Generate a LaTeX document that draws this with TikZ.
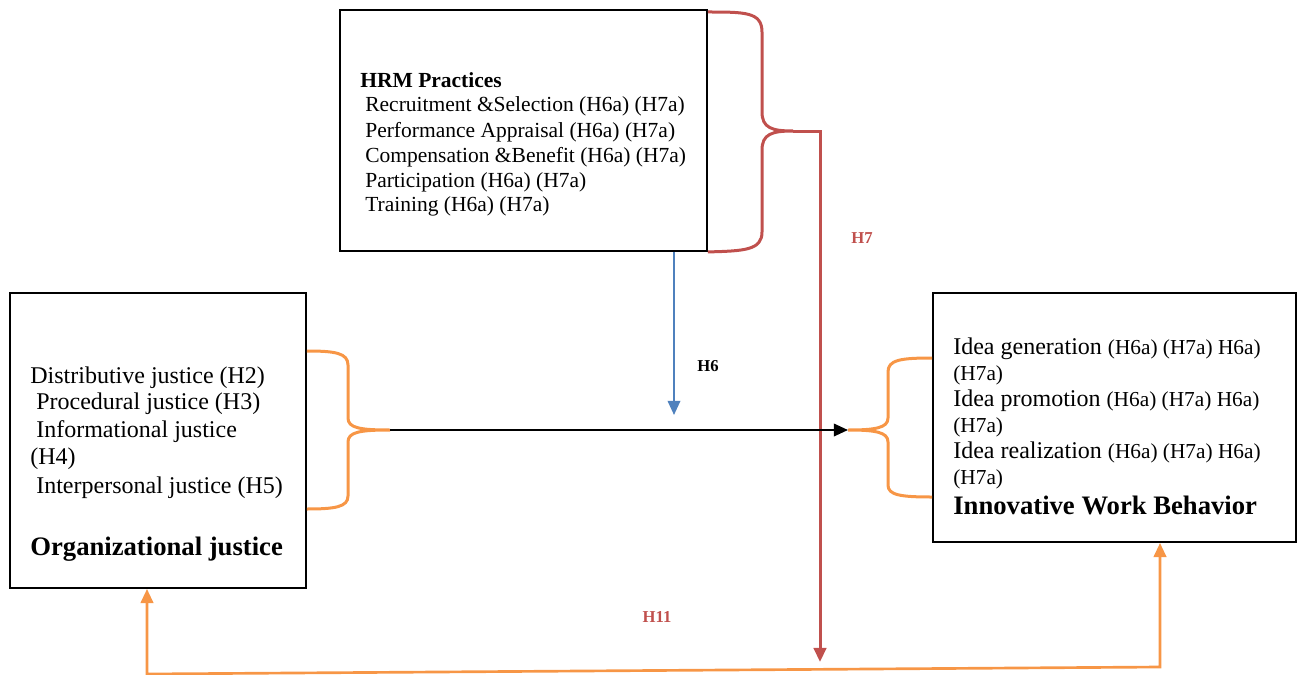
\documentclass[tikz,border=0pt]{standalone}
\usepackage{fontspec}
\setmainfont{Liberation Serif}
\usetikzlibrary{arrows.meta}
\definecolor{hred}{HTML}{C0504D}
\definecolor{horange}{HTML}{F79646}
\definecolor{hblue}{HTML}{4F81BD}
\newcommand{\hsmall}{\fontsize{12.8}{15}\selectfont}
\tikzset{
  box/.style={draw=black, line width=1.1pt, fill=white, inner sep=0pt},
  txt/.style={anchor=base west, inner sep=0pt, font=\fontsize{12.9}{15}\selectfont},
  bigtxt/.style={anchor=base west, inner sep=0pt, font=\fontsize{14.4}{17}\selectfont},
  smalltxt/.style={anchor=base west, inner sep=0pt, font=\hsmall},
  ttl/.style={anchor=base west, inner sep=0pt, font=\fontsize{16}{19}\selectfont\bfseries},
  hdr/.style={anchor=base west, inner sep=0pt, font=\fontsize{12.9}{15}\selectfont\bfseries},
  lbl/.style={inner sep=0pt, font=\fontsize{10}{12}\selectfont\bfseries},
  redl/.style={draw=hred, line width=1.8pt},
  orl/.style={draw=horange, line width=1.8pt},
  tip/.style={-{Triangle[length=8.5pt,width=7.5pt]}},
}
\begin{document}
\begin{tikzpicture}[x=0.6pt,y=-0.6pt]
\useasboundingbox (0,0) rectangle (1297,675);
% boxes
\node[box, minimum width=220.2pt, minimum height=144.6pt] (hrm) at (523.5,130.5) {};
\node[box, minimum width=177.6pt, minimum height=177pt] (oj) at (158,440.5) {};
\node[box, minimum width=217.8pt, minimum height=149.4pt] (iwb) at (1114.5,417.5) {};
% HRM text
\node[hdr] (h0) at (360,88) {HRM Practices};
\node[txt] (h1) at (365,112) {Recruitment \&Selection (H6a) (H7a)};
\node[txt] (h2) at (365,137) {Performance Appraisal (H6a) (H7a)};
\node[txt] (h3) at (365,162) {Compensation \&Benefit (H6a) (H7a)};
\node[txt] (h4) at (365,187) {Participation (H6a) (H7a)};
\node[txt] (h5) at (365,211) {Training (H6a) (H7a)};
% OJ text
\node[bigtxt] (o1) at (30,383) {Distributive justice (H2)};
\node[bigtxt] (o2) at (36,409) {Procedural justice (H3)};
\node[bigtxt] (o3) at (36,437) {Informational justice};
\node[bigtxt] (o4) at (30,464) {(H4)};
\node[bigtxt] (o5) at (36,493) {Interpersonal justice (H5)};
\node[ttl] (o6) at (30,555) {Organizational justice};
% IWB text
\node[bigtxt] (i1) at (953,354) {Idea generation {\hsmall (H6a) (H7a) H6a)}};
\node[smalltxt] (i2) at (953,380) {(H7a)};
\node[bigtxt] (i3) at (953,406) {Idea promotion {\hsmall (H6a) (H7a) H6a)}};
\node[smalltxt] (i4) at (953,432) {(H7a)};
\node[bigtxt] (i5) at (953,458) {Idea realization {\hsmall (H6a) (H7a) H6a)}};
\node[smalltxt] (i6) at (953,484) {(H7a)};
\node[ttl] (i7) at (953,514) {Innovative Work Behavior};
% labels
\node[lbl, text=hred] (l7) at (862,238) {H7};
\node[lbl, text=black] (l6) at (708,366) {H6};
\node[lbl, text=hred] (l11) at (657,617) {H11};
% coordinates
\coordinate (rtip) at (793,131);
\coordinate (r7end) at (820,662);
\coordinate (ltip) at (390,430);
\coordinate (rbtip) at (848,430);
\coordinate (b6) at (674,415);
\coordinate (bl) at (147,674);
\coordinate (br) at (1160,667);
% red brace
\draw[redl] (hrm.north east |- 0,12) .. controls (745,12) and (762,12) .. (762,32) -- (762,112)
  .. controls (762,128) and (772,131) .. (rtip)
  .. controls (772,131) and (762,134) .. (762,150) -- (762,232)
  .. controls (762,250) and (745,251) .. (hrm.south east);
\draw[redl, tip] (rtip) -| (r7end);
% blue arrow
\draw[draw=hblue, line width=1.3pt, tip] (hrm.south -| b6) -- (b6);
% left orange brace
\draw[orl] (oj.east |- 0,351) .. controls (335,351) and (348,353) .. (348,365) -- (348,418)
  .. controls (348,428) and (360,430) .. (ltip)
  .. controls (360,430) and (348,432) .. (348,442) -- (348,496)
  .. controls (348,507) and (335,509) .. (oj.east |- 0,509);
% black arrow
\draw[line width=1.3pt, tip] (ltip) -- (rbtip);
% right orange brace
\draw[orl] (iwb.west |- 0,358) .. controls (900,358) and (888,360) .. (888,372) -- (888,418)
  .. controls (888,428) and (875,430) .. (rbtip)
  .. controls (875,430) and (888,432) .. (888,442) -- (888,485)
  .. controls (888,495) and (900,497) .. (iwb.west |- 0,497);
% bottom orange loop
\draw[orl, line width=1.6pt, {Triangle[length=8.5pt,width=7.5pt]}-{Triangle[length=8.5pt,width=7.5pt]}]
  (oj.south -| bl) -- (bl) -- (br) -- (iwb.south -| br);
\end{tikzpicture}
\end{document}
